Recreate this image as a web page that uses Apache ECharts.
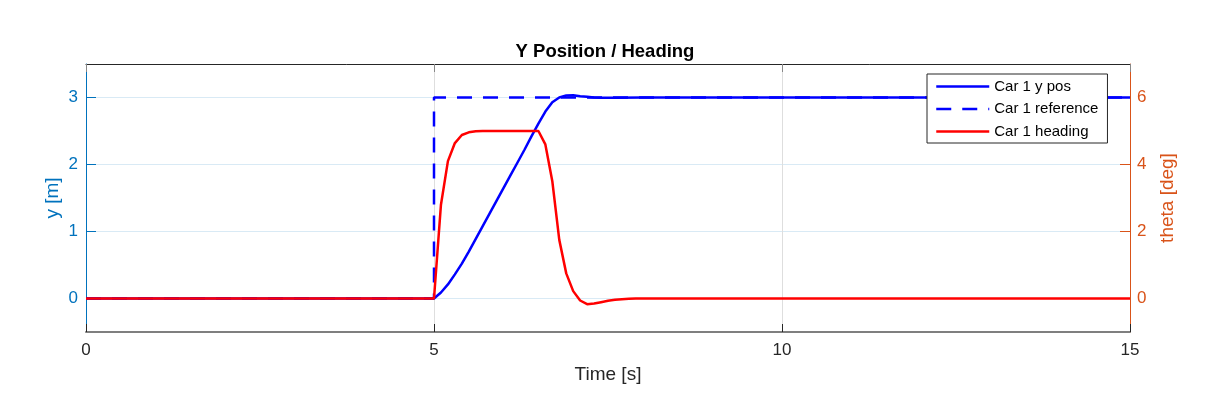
<!DOCTYPE html>
<html>
<head>
<meta charset="utf-8">
<script src="https://cdn.jsdelivr.net/npm/echarts@6/dist/echarts.min.js"></script>
<style>
  html, body { margin: 0; padding: 0; background: #fff; }
  #chart { width: 1210px; height: 408px; }
</style>
</head>
<body>
<div id="chart"></div>
<script>
// time [s] / y position [m] of car 1
var posTime = [0, 5.0, 5.1, 5.2, 5.3, 5.4, 5.5, 5.6, 5.7, 5.8, 5.9, 6.0, 6.1, 6.2, 6.3, 6.4,
               6.5, 6.6, 6.7, 6.8, 6.9, 7.0, 7.1, 7.2, 7.3, 7.4, 7.6, 8.0, 15];
var posY    = [0, 0, 0.09, 0.21, 0.36, 0.52, 0.70, 0.89, 1.08, 1.27, 1.46, 1.65, 1.84, 2.03, 2.22, 2.42,
               2.61, 2.79, 2.93, 3.00, 3.03, 3.035, 3.02, 3.01, 3.0, 2.997, 2.997, 3.0, 3.0];
// reference step
var refTime = [0, 5, 5, 15];
var refY    = [0, 0, 3, 3];
// heading [deg]
var headTime  = [0, 5.0, 5.1, 5.2, 5.3, 5.4, 5.5, 5.6, 5.7, 6.0, 6.5, 6.6, 6.7, 6.8, 6.9,
                 7.0, 7.1, 7.2, 7.3, 7.4, 7.5, 7.6, 7.7, 7.8, 7.9, 15];
var headTheta = [0, 0, 2.8, 4.1, 4.64, 4.88, 4.96, 4.99, 5.0, 5.0, 5.0, 4.6, 3.5, 1.75, 0.75,
                 0.22, -0.06, -0.17, -0.15, -0.11, -0.07, -0.04, -0.02, -0.01, 0, 0];
var xTicks = [0, 5, 10, 15];
var yTicks = [0, 1, 2, 3];
var thetaTicks = [0, 2, 4, 6];
var names = ['Car 1 y pos', 'Car 1 reference', 'Car 1 heading'];

function pairs(xs, ys) {
  return xs.map(function (x, i) { return [x, ys[i]]; });
}

var blueAxis = '#0072BD', orangeAxis = '#D95319', dark = '#262626';
var chart = echarts.init(document.getElementById('chart'));
var option = {
  animation: false,
  textStyle: { fontFamily: 'Liberation Sans' },
  title: {
    text: 'Y Position / Heading',
    left: 'center',
    top: 37,
    textStyle: { fontSize: 18.5, fontWeight: 'bold', color: '#000' }
  },
  legend: {
    data: names,
    orient: 'vertical',
    left: 927,
    top: 74,
    padding: [5, 9, 4, 8],
    itemGap: 7.5,
    itemWidth: 53,
    itemHeight: 14,
    backgroundColor: '#fff',
    borderColor: dark,
    borderWidth: 1,
    itemStyle: { opacity: 0 },
    lineStyle: { width: 2.5 },
    textStyle: { fontSize: 15, color: '#000' }
  },
  grid: { left: 86, right: 80, top: 64, bottom: 76 },
  xAxis: [{
    type: 'value',
    min: 0, max: 15, interval: 5,
    name: 'Time [s]',
    nameLocation: 'middle',
    nameGap: 33,
    nameMoveOverlap: false,
    nameTextStyle: { fontSize: 19, color: dark },
    axisLine: { onZero: false, lineStyle: { color: '#7f7f7f', width: 2 } },
    axisTick: { inside: true, length: 8, lineStyle: { color: dark } },
    axisLabel: { fontSize: 17, color: dark, margin: 10, customValues: xTicks },
    splitLine: { show: true, lineStyle: { color: '#dedede', width: 1 } }
  }, {
    type: 'value',
    position: 'top',
    min: 0, max: 15, interval: 5,
    axisLine: { onZero: false, lineStyle: { color: dark, width: 1 } },
    axisTick: { inside: true, length: 8, lineStyle: { color: '#888' } },
    axisLabel: { show: false },
    splitLine: { show: false }
  }],
  yAxis: [{
    type: 'value',
    min: -0.5, max: 3.5,
    name: 'y [m]',
    nameLocation: 'middle',
    nameGap: 24,
    nameMoveOverlap: false,
    nameTextStyle: { fontSize: 19, color: blueAxis },
    axisLine: { show: true, onZero: false, lineStyle: { color: blueAxis, width: 1 } },
    axisTick: { show: true, inside: true, length: 10, customValues: yTicks, lineStyle: { color: blueAxis } },
    axisLabel: { fontSize: 17, color: blueAxis, margin: 8, customValues: yTicks },
    splitLine: { show: true, lineStyle: { color: '#d9eaf5', width: 1 } }
  }, {
    type: 'value',
    position: 'right',
    min: -1, max: 7,
    name: 'theta [deg]',
    nameLocation: 'middle',
    nameGap: 28,
    nameMoveOverlap: false,
    nameTextStyle: { fontSize: 19, color: orangeAxis },
    axisLine: { show: true, onZero: false, lineStyle: { color: orangeAxis, width: 1 } },
    axisTick: { show: true, inside: true, length: 10, customValues: thetaTicks, lineStyle: { color: orangeAxis } },
    axisLabel: { fontSize: 17, color: orangeAxis, margin: 7, customValues: thetaTicks },
    splitLine: { show: false }
  }],
  series: [{
    name: names[0],
    type: 'line',
    xAxisIndex: 0, yAxisIndex: 0,
    symbol: 'none',
    data: pairs(posTime, posY),
    lineStyle: { color: '#0000ff', width: 2.5 },
    itemStyle: { color: '#0000ff' },
    z: 2
  }, {
    name: names[1],
    type: 'line',
    xAxisIndex: 0, yAxisIndex: 0,
    symbol: 'none',
    data: pairs(refTime, refY),
    lineStyle: { color: '#0000ff', width: 2.5, type: [15, 11] },
    itemStyle: { color: '#0000ff' },
    z: 3
  }, {
    name: names[2],
    type: 'line',
    xAxisIndex: 0, yAxisIndex: 1,
    symbol: 'none',
    data: pairs(headTime, headTheta),
    lineStyle: { color: '#ff0000', width: 2.5 },
    itemStyle: { color: '#ff0000' },
    z: 4
  }]
};
chart.setOption(option);
</script>
</body>
</html>
